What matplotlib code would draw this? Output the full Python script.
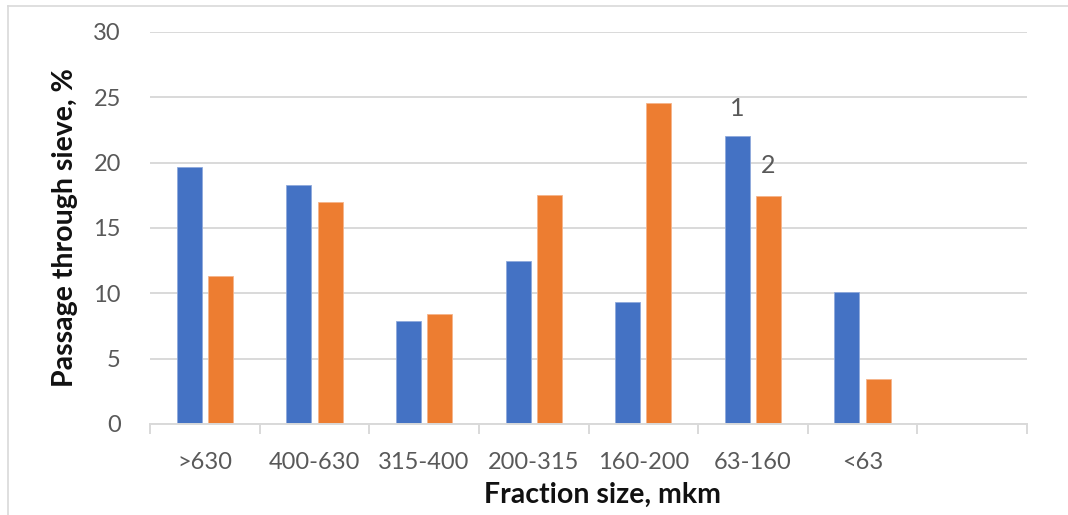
import numpy as np
import matplotlib
matplotlib.use("Agg")
import matplotlib.pyplot as plt
from matplotlib.lines import Line2D

categories = [">630", "400-630", "315-400", "200-315", "160-200", "63-160", "<63", ""]
series1 = [19.7, 18.3, 7.85, 12.5, 9.3, 22.05, 10.1, np.nan]
series2 = [11.3, 17.0, 8.45, 17.55, 24.55, 17.45, 3.45, np.nan]
yticks = [0, 5, 10, 15, 20, 25, 30]

font = "Lato"
W, H = 1068, 515
fig = plt.figure(figsize=(W / 100, H / 100), dpi=100)
ax = fig.add_axes([150 / W, 1 - 424 / H, (1027 - 150) / W, (424 - 32) / H])

x = np.arange(len(categories))
bw = 0.228
off = 0.142
blue = "#4472C4"
orange = "#ED7D31"
ax.bar(x - off, series1, bw, color=blue, edgecolor="#8fa9dc", linewidth=0.6, zorder=3)
ax.bar(x + off, series2, bw, color=orange, edgecolor="#f5b48a", linewidth=0.6, zorder=3)

ax.set_xlim(-0.5, len(categories) - 0.5)
ax.set_ylim(0, 30)
ax.set_yticks(yticks)
ax.yaxis.grid(True, color="#d9d9d9", linewidth=1.4, zorder=0)
ax.set_axisbelow(True)
for s in ["top", "right", "left"]:
    ax.spines[s].set_visible(False)
ax.spines["bottom"].set_color("#d9d9d9")
ax.spines["bottom"].set_linewidth(1.4)
ax.spines["bottom"].set_zorder(4)

ax.tick_params(axis="y", length=0, pad=21, labelsize=17, labelcolor="#595959")
for lab in ax.get_yticklabels():
    lab.set_fontfamily(font)

# category boundary ticks
ax.set_xticks(np.arange(len(categories) + 1) - 0.5, minor=True)
ax.tick_params(axis="x", which="minor", length=7.5, width=1.4, color="#d9d9d9")
ax.set_xticks(x)
ax.set_xticklabels(categories)
ax.tick_params(axis="x", which="major", length=0, pad=20, labelsize=17, labelcolor="#595959")
for lab in ax.get_xticklabels():
    lab.set_fontfamily(font)

# series markers
ax.annotate("1", xy=(x[5] - off, series1[5]), xytext=(0, 20), textcoords="offset points",
            ha="center", va="center", fontsize=18, color="#595959", family=font)
ax.annotate("2", xy=(x[5] + off, series2[5]), xytext=(0, 22), textcoords="offset points",
            ha="center", va="center", fontsize=18, color="#595959", family=font)

fig.text(603 / W, 1 - 495 / H, "Fraction size, mkm", ha="center", va="center",
         fontsize=20.5, fontweight="bold", family=font, color="#111111")
fig.text(65 / W, 1 - 228 / H, "Passage through sieve, %", ha="center", va="center",
         rotation=90, fontsize=20.5, fontweight="bold", family=font, color="#111111")

# outer chart border (top and left visible)
fig.add_artist(Line2D([8 / W, 1], [1 - 6 / H, 1 - 6 / H], transform=fig.transFigure,
                      color="#d9d9d9", linewidth=1.2))
fig.add_artist(Line2D([8 / W, 8 / W], [0, 1 - 6 / H], transform=fig.transFigure,
                      color="#d9d9d9", linewidth=1.2))

fig.savefig("out.png", dpi=100)
